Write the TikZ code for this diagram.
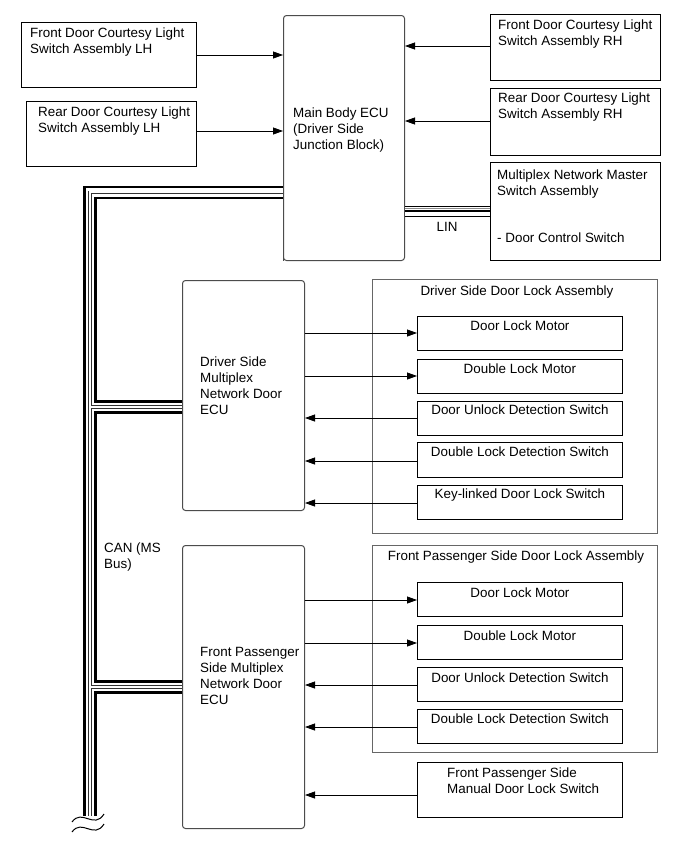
\documentclass[tikz,border=0pt]{standalone}
\usepackage{fontspec}
\setmainfont{Liberation Sans}
\usetikzlibrary{arrows.meta}
\newcommand\fs{\fontsize{13.4}{16}\selectfont}
\begin{document}
\begin{tikzpicture}[x=1pt,y=-1pt,
  box/.style={draw=black,line width=0.9pt,anchor=north west,inner sep=0pt,rectangle},
  ecu/.style={draw=black!70,line width=1pt,rounded corners=3pt,anchor=north west,inner sep=0pt,rectangle},
  grp/.style={draw=black!60,line width=0.8pt,anchor=north west,inner sep=0pt,rectangle},
  txt/.style={anchor=north west,inner sep=0pt,font=\fs,align=left},
  ctxt/.style={anchor=north,inner sep=0pt,font=\fs},
  arr/.style={line width=0.8pt,-{Triangle[length=10pt,width=7pt]}},
]
\useasboundingbox[fill=white] (0,0) rectangle (690,854);

% ---------- boxes ----------
\node[box,minimum width=175pt,minimum height=65pt] (fl) at (21,22) {};
\node[box,minimum width=170pt,minimum height=65pt] (rl) at (26,101) {};
\node[ecu,minimum width=121pt,minimum height=245pt] (main) at (283,15) {};
\node[box,minimum width=170pt,minimum height=66pt] (fr) at (490,14) {};
\node[box,minimum width=170pt,minimum height=67pt] (rr) at (490,88) {};
\node[box,minimum width=170pt,minimum height=98pt] (mnms) at (490,162) {};

\node[ecu,minimum width=122pt,minimum height=230pt] (drv) at (182,280) {};
\node[grp,minimum width=285pt,minimum height=254pt] (dasm) at (372,279) {};
\node[box,minimum width=205pt,minimum height=34pt] (dlm1) at (417,316) {};
\node[box,minimum width=205pt,minimum height=34pt] (dbl1) at (417,359) {};
\node[box,minimum width=205pt,minimum height=34pt] (dud1) at (417,401) {};
\node[box,minimum width=205pt,minimum height=35pt] (dld1) at (417,442) {};
\node[box,minimum width=205pt,minimum height=34pt] (key1) at (417,485) {};

\node[ecu,minimum width=122pt,minimum height=283pt] (pas) at (182,545) {};
\node[grp,minimum width=285pt,minimum height=207pt] (pasm) at (372,545) {};
\node[box,minimum width=205pt,minimum height=34pt] (dlm2) at (417,582) {};
\node[box,minimum width=205pt,minimum height=34pt] (dbl2) at (417,625) {};
\node[box,minimum width=205pt,minimum height=34pt] (dud2) at (417,667) {};
\node[box,minimum width=205pt,minimum height=34pt] (dld2) at (417,709) {};
\node[box,minimum width=205pt,minimum height=55pt] (man) at (417,762) {};

% ---------- texts ----------
\node[txt] (tfl) at (30,28) {Front Door Courtesy Light\\Switch Assembly LH};
\node[txt] (trl) at (38,107) {Rear Door Courtesy Light\\Switch Assembly LH};
\node[txt] (tmain) at (293,108) {Main Body ECU\\(Driver Side\\Junction Block)};
\node[txt] (tfr) at (498,20) {Front Door Courtesy Light\\Switch Assembly RH};
\node[txt] (trr) at (498,93) {Rear Door Courtesy Light\\Switch Assembly RH};
\node[txt] (tmn) at (497,170) {Multiplex Network Master\\Switch Assembly};
\node[txt] (tmn2) at (497,233) {- Door Control Switch};
\node[font=\fs,inner sep=0pt] (lin) at (447,227) {LIN};
\node[txt] (can) at (104,543) {CAN (MS\\Bus)};

\node[txt] (tdrv) at (200,357) {Driver Side\\Multiplex\\Network Door\\ECU};
\node[ctxt] (tdasm) at (517,286) {Driver Side Door Lock Assembly};
\node[ctxt] at ([yshift=-5pt]dlm1.north) (t1) {Door Lock Motor};
\node[ctxt] at ([yshift=-5pt]dbl1.north) (t2) {Double Lock Motor};
\node[ctxt] at ([yshift=-4pt]dud1.north) (t3) {Door Unlock Detection Switch};
\node[ctxt] at ([yshift=-5pt]dld1.north) (t4) {Double Lock Detection Switch};
\node[ctxt] at ([yshift=-4pt]key1.north) (t5) {Key-linked Door Lock Switch};

\node[txt] (tpas) at (200,647) {Front Passenger\\Side Multiplex\\Network Door\\ECU};
\node[ctxt] (tpasm) at (516,551) {Front Passenger Side Door Lock Assembly};
\node[ctxt] at ([yshift=-6pt]dlm2.north) (u1) {Door Lock Motor};
\node[ctxt] at ([yshift=-6pt]dbl2.north) (u2) {Double Lock Motor};
\node[ctxt] at ([yshift=-6pt]dud2.north) (u3) {Door Unlock Detection Switch};
\node[ctxt] at ([yshift=-5pt]dld2.north) (u4) {Double Lock Detection Switch};
\node[txt] (tman) at (447,768) {Front Passenger Side\\Manual Door Lock Switch};

% ---------- arrows ----------
\draw[arr] (fl.east |- 0,55) -- (main.west |- 0,55);
\draw[arr] (rl.east |- 0,131) -- (main.west |- 0,131);
\draw[arr] (fr.west |- 0,46) -- (main.east |- 0,46);
\draw[arr] (rr.west |- 0,121) -- (main.east |- 0,121);

\draw[arr] (drv.east |- 0,333) -- (dlm1.west |- 0,333);
\draw[arr] (drv.east |- 0,376) -- (dbl1.west |- 0,376);
\draw[arr] (dud1.west |- 0,418) -- (drv.east |- 0,418);
\draw[arr] (dld1.west |- 0,461) -- (drv.east |- 0,461);
\draw[arr] (key1.west |- 0,503) -- (drv.east |- 0,503);

\draw[arr] (pas.east |- 0,600) -- (dlm2.west |- 0,600);
\draw[arr] (pas.east |- 0,643) -- (dbl2.west |- 0,643);
\draw[arr] (dud2.west |- 0,685) -- (pas.east |- 0,685);
\draw[arr] (dld2.west |- 0,727) -- (pas.east |- 0,727);
\draw[arr] (man.west |- 0,795) -- (pas.east |- 0,795);

% ---------- CAN bus ----------
\coordinate (b0) at (main.west |- 0,192.3);
\coordinate (bc) at (90,192.3);
\coordinate (bend) at (90,816);
\coordinate (j1) at (90,407);
\coordinate (j2) at (90,687);
\foreach \w/\c in {13.4/black,8.6/white,3.6/black!80,2/white}{
  \draw[line width=\w pt,draw=\c,line join=miter] (b0) -- (bc) -- (bend);
  \draw[line width=\w pt,draw=\c] (j1) -- (drv.west |- j1);
  \draw[line width=\w pt,draw=\c] (j2) -- (pas.west |- j2);
}
\draw[draw=black!70,line width=1pt] (main.north west) ++(0,5) -- (main.south west);
% break symbol
\coordinate (w1) at (72,822);
\coordinate (w2) at (104,814);
\coordinate (w3) at (72,832);
\coordinate (w4) at (104,824);
\draw[line width=1pt] (w1) .. controls (82,808) and (94,830) .. (w2);
\draw[line width=1pt] (w3) .. controls (82,818) and (94,840) .. (w4);

% ---------- LIN bus ----------
\coordinate (l0) at (main.east |- 0,211);
\coordinate (l1) at (mnms.west |- 0,211);
\foreach \w/\c in {11/black,9/white,6.4/black!45,5/white,2.6/black}{
  \draw[line width=\w pt,draw=\c] (l0) -- (l1);
}
\end{tikzpicture}
\end{document}
